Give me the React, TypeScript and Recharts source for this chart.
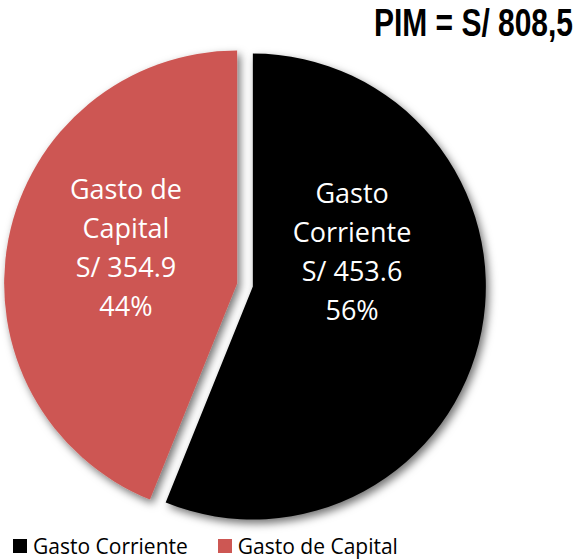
import React from "react";
import { Cell, Legend, Pie, PieChart } from "recharts";

const categories = ["Gasto Corriente", "Gasto de Capital"];
const labelLines = [
  ["Gasto", "Corriente"],
  ["Gasto de", "Capital"],
];
const amounts = [453.6, 354.9];
const amountLabels = ["S/ 453.6", "S/ 354.9"];
const percentLabels = ["56%", "44%"];
const colors = ["#000000", "#cd5753"];
const title = "PIM = S/ 808,5";

const W = 578;
const H = 559;
const CX = 245;
const CY = 285;
const R = 233;
const EXPLODE = 8;
const RAD = Math.PI / 180;

const data = categories.map((name, i) => ({ name, value: amounts[i] }));
const total = amounts.reduce((a, b) => a + b, 0);

// mid angle of each slice (recharts degrees, clockwise from 12 o'clock)
function midAngleOf(i: number) {
  const before = amounts.slice(0, i).reduce((a, b) => a + b, 0);
  return 90 - (360 * (before + amounts[i] / 2)) / total;
}

function makeLabel(k: number) {
  return (props: any) => {
    const { cx, cy, midAngle, outerRadius, index } = props;
    if (index !== k) return null;
    const x = cx + 0.46 * outerRadius * Math.cos(-midAngle * RAD) - 6;
    const y0 = cy - 84;
    const lines = [...labelLines[index], amountLabels[index], percentLabels[index]];
    return (
      <text
        x={x}
        y={y0}
        textAnchor="middle"
        fill="#ffffff"
        fontSize={27}
        fontFamily="'Open Sans', sans-serif"
      >
        {lines.map((t, j) => (
          <tspan key={j} x={x} y={y0 + j * 39}>
            {t}
          </tspan>
        ))}
      </text>
    );
  };
}

function LegendContent() {
  return (
    <div
      style={{
        display: "flex",
        alignItems: "center",
        paddingLeft: 13,
        fontFamily: "'Open Sans', sans-serif",
        fontSize: 21,
        color: "#000",
        lineHeight: "26px",
      }}
    >
      {categories.map((c, i) => (
        <div key={c} style={{ display: "flex", alignItems: "center", marginRight: i === 0 ? 30 : 0 }}>
          <span
            style={{
              display: "inline-block",
              width: 14,
              height: 14,
              background: colors[i],
              marginRight: 6,
            }}
          />
          <span>{c}</span>
        </div>
      ))}
    </div>
  );
}

export default function App() {
  return (
    <div style={{ position: "absolute", left: 0, top: 0, width: W, height: H, background: "#fff" }}>
      <svg width={0} height={0} style={{ position: "absolute" }}>
        <defs>
          <filter id="pieShadow" x="-20%" y="-20%" width="140%" height="140%">
            <feDropShadow dx={3} dy={4} stdDeviation={4} floodColor="#000" floodOpacity={0.55} />
          </filter>
        </defs>
      </svg>
      <PieChart width={W} height={H} margin={{ top: 0, right: 0, bottom: 0, left: 0 }}>
        <text
          x={573}
          y={36}
          textAnchor="end"
          fontSize={39}
          fontWeight="bold"
          fontFamily="'Liberation Sans', Arial, sans-serif"
          fill="#000"
          textLength={199}
          lengthAdjust="spacingAndGlyphs"
        >
          {title}
        </text>
        {categories.map((c, k) => {
          const mid = midAngleOf(k);
          return (
            <Pie
              key={c}
              data={data}
              dataKey="value"
              nameKey="name"
              cx={CX + EXPLODE * Math.cos(mid * RAD)}
              cy={CY - EXPLODE * Math.sin(mid * RAD)}
              outerRadius={R}
              startAngle={90}
              endAngle={-270}
              stroke="none"
              labelLine={false}
              label={makeLabel(k)}
              isAnimationActive={false}
              legendType="none"
            >
              {data.map((d, i) => (
                <Cell
                  key={d.name}
                  fill={i === k ? colors[i] : "none"}
                  stroke="none"
                  filter={i === k ? "url(#pieShadow)" : undefined}
                />
              ))}
            </Pie>
          );
        })}
        <Legend
          content={<LegendContent />}
          wrapperStyle={{ position: "absolute", left: 0, top: 533, width: W }}
        />
      </PieChart>
    </div>
  );
}
